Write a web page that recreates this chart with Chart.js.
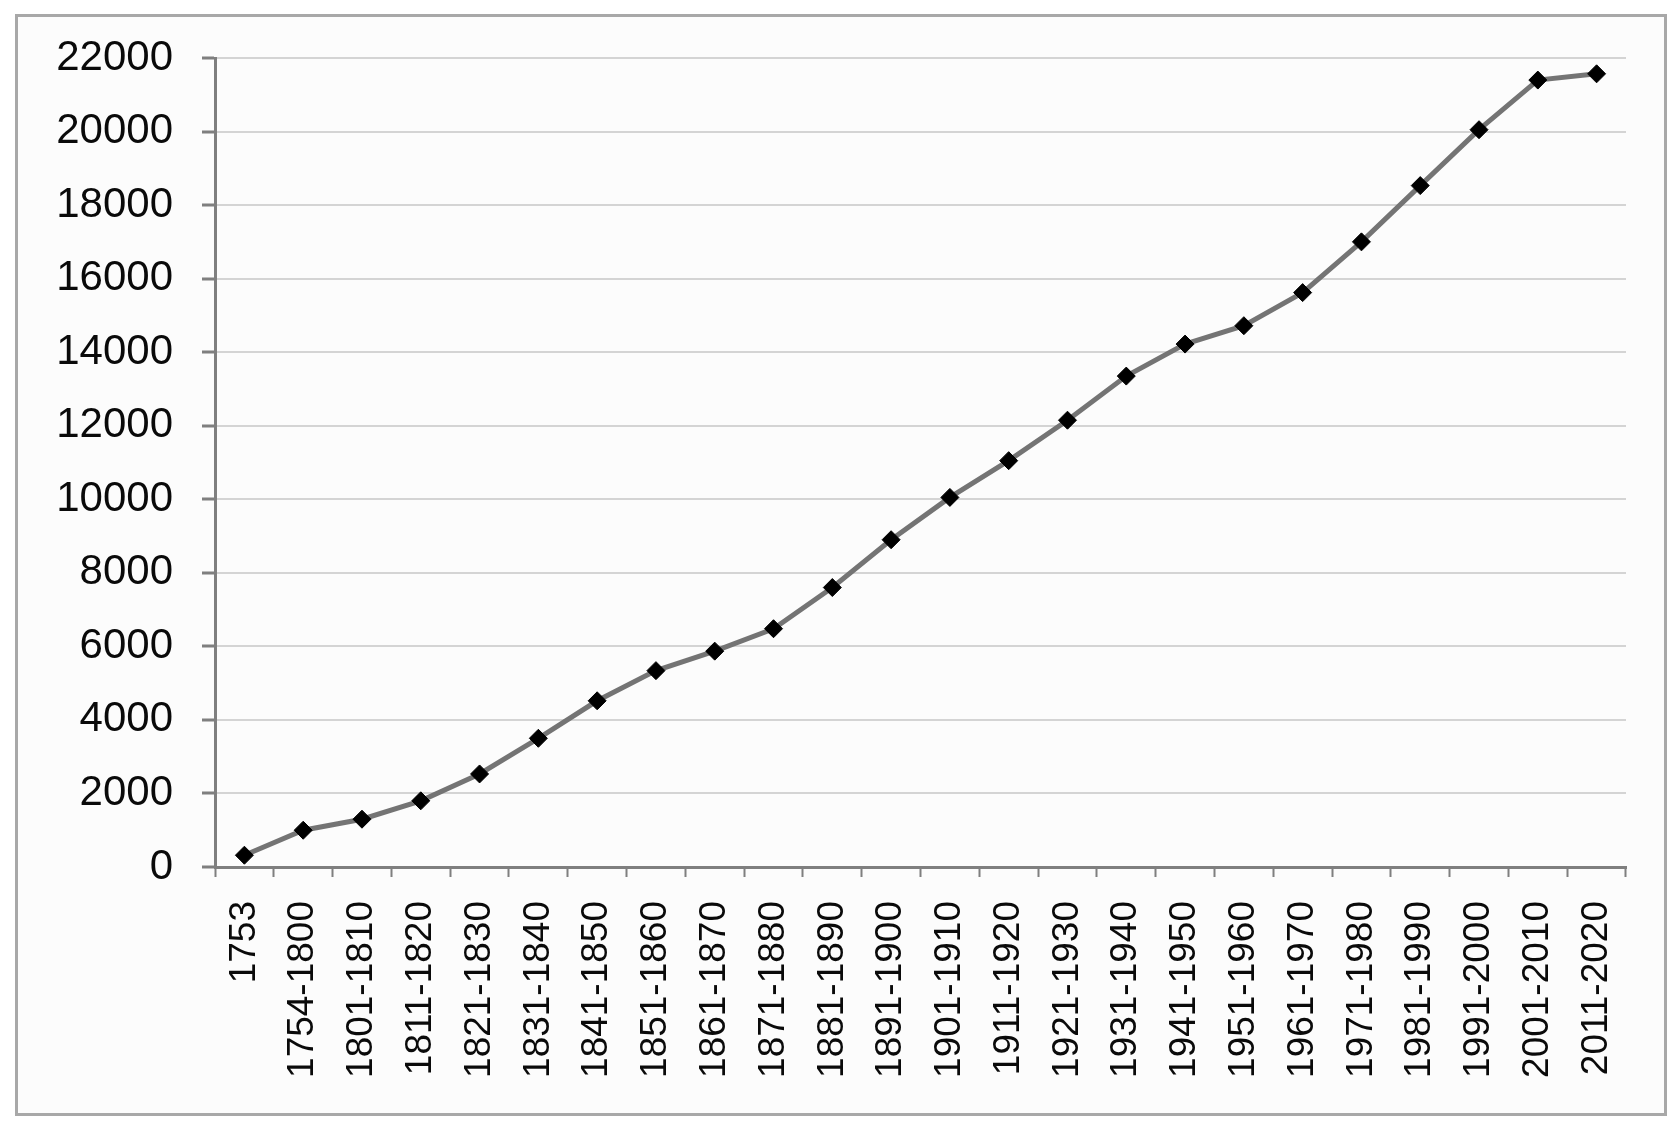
<!DOCTYPE html>
<html>
<head>
<meta charset="utf-8">
<script src="https://cdn.jsdelivr.net/npm/chart.js@4/dist/chart.umd.min.js"></script>
<style>
    html, body { margin: 0; padding: 0; background: #ffffff; }
    #frame {
        position: absolute;
        left: 15px;
        top: 14px;
        width: 1646px;
        height: 1096px;
        border: 3px solid #a8a8a8;
        background: #fcfcfc;
    }
    #wrap { position: absolute; left: 0; top: 0; width: 1679px; height: 1128px; }
</style>
</head>
<body>
<div id="frame"></div>
<div id="wrap"><canvas id="growth"></canvas></div>
<script>

/****************************************************
 * DATA
 ***************************************************/

const periods = [
    '1753', '1754-1800', '1801-1810', '1811-1820', '1821-1830', '1831-1840',
    '1841-1850', '1851-1860', '1861-1870', '1871-1880', '1881-1890', '1891-1900',
    '1901-1910', '1911-1920', '1921-1930', '1931-1940', '1941-1950', '1951-1960',
    '1961-1970', '1971-1980', '1981-1990', '1991-2000', '2001-2010', '2011-2020'
];

const totals = [
    320, 1000, 1300, 1800, 2530, 3500,
    4520, 5340, 5870, 6480, 7600, 8900,
    10050, 11050, 12150, 13350, 14220, 14720,
    15620, 17000, 18530, 20050, 21400, 21570
];

const yTickMin = 0;
const yTickMax = 22000;
const yTickStep = 2000;

/*******************
 * CHART - SETUP
 ******************/

const axisGrey = '#7f7f7f';
const gridGrey = '#d4d4d4';

const ctx = document.getElementById('growth');

const growthChart = new Chart(ctx, {
    type: 'line',
    data: {
        labels: periods,
        datasets: [{
            data: totals,
            borderColor: '#747474',
            borderWidth: 5,
            pointStyle: 'rectRot',
            pointRadius: 9,
            pointBackgroundColor: '#000000',
            pointBorderColor: '#000000',
            pointBorderWidth: 1,
            tension: 0,
        }]
    },
    options: {
        responsive: true,
        maintainAspectRatio: false,
        animation: false,
        layout: {
            padding: { top: 58, right: 53, bottom: 0, left: 0 }
        },
        plugins: {
            legend: { display: false },
            tooltip: { enabled: false },
        },
        scales: {
            x: {
                type: 'category',
                offset: true,
                grid: {
                    offset: true,
                    drawOnChartArea: false,
                    drawTicks: true,
                    tickLength: 10,
                    tickColor: axisGrey,
                    tickWidth: 2,
                },
                border: { color: axisGrey, width: 3 },
                ticks: {
                    minRotation: 90,
                    maxRotation: 90,
                    autoSkip: false,
                    padding: 24,
                    color: '#0a0a0a',
                    font: { family: 'Liberation Sans', size: 37 },
                },
                afterFit: function(scale) {
                    scale.height = 261;
                },
            },
            y: {
                min: yTickMin,
                max: yTickMax,
                grid: {
                    color: gridGrey,
                    lineWidth: 2,
                    tickLength: 13,
                    tickColor: axisGrey,
                    tickWidth: 3,
                },
                border: { color: axisGrey, width: 3 },
                ticks: {
                    stepSize: yTickStep,
                    padding: 29,
                    color: '#0a0a0a',
                    font: { family: 'Liberation Sans', size: 42 },
                    callback: function(value) { return String(value); },
                },
                afterFit: function(scale) {
                    scale.width = 215;
                },
            },
        },
    },
});
</script>
</body>
</html>
